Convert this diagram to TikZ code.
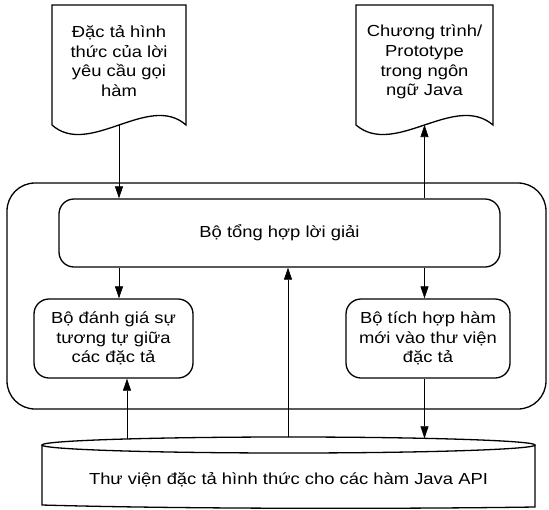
\documentclass[tikz,border=0pt]{standalone}
\usepackage{fontspec}
\setmainfont{Liberation Sans}[FakeStretch=1.15]
\usetikzlibrary{arrows.meta}
\begin{document}
\begin{tikzpicture}[x=1pt,y=-1pt,
  lbl/.style={align=center,inner sep=0pt,font=\fontsize{16}{19.7}\selectfont},
  box/.style={lbl,draw,line width=1.3pt,rounded corners=15pt},
  conn/.style={line width=0.6pt,-{Triangle[length=12pt,width=8pt]}}]
\useasboundingbox (0,0) rectangle (549,509);
% documents
\draw[line width=1.3pt] (52,5) -- (186,5) -- (186,125)
      .. controls (149,92) and (89,158) .. (52,125) -- cycle;
\coordinate (spec-b) at (119,125);
\node[lbl] (spec) at (119,61) {Đặc tả hình\\thức của lời\\yêu cầu gọi\\hàm};
\draw[line width=1.3pt] (356,5) -- (493,5) -- (493,125)
      .. controls (454.5,92) and (394.5,158) .. (356,125) -- cycle;
\coordinate (proto-b) at (424.5,125);
\node[lbl] (proto) at (424.5,62) {Chương trình/\\Prototype\\trong ngôn\\ngữ Java};
% engine
\node[box,rounded corners=28pt,minimum width=539pt,minimum height=226pt] (engine) at (276.5,296) {};
\node[box,minimum width=441pt,minimum height=68pt] (synth) at (279.5,233) {Bộ tổng hợp lời giải};
\node[box,minimum width=159pt,minimum height=79pt] (sim) at (113.5,338.5) {Bộ đánh giá sự\\tương tự giữa\\các đặc tả};
\node[box,minimum width=164pt,minimum height=79pt] (integ) at (428,338.5) {Bộ tích hợp hàm\\mới vào thư viện\\đặc tả};
% library
\draw[line width=1.3pt] (42,445) -- (42,505) .. controls (180,509) and (400,509) .. (535,507) -- (535,445)
      (288.5,445) ellipse [x radius=246.5, y radius=8];
\node[lbl] (lib) at (288.5,480) {Thư viện đặc tả hình thức cho các hàm Java API};
\coordinate (lib-a) at (127,439);
\coordinate (lib-m) at (288,437);
\coordinate (lib-c) at (424.5,438.3);
% connectors
\draw[conn] (spec-b) -- (spec-b |- synth.north);
\draw[conn] (proto-b |- synth.north) -- (proto-b);
\draw[conn] (spec-b |- synth.south) -- (spec-b |- sim.north);
\draw[conn] (proto-b |- synth.south) -- (proto-b |- integ.north);
\draw[conn] (lib-a) -- (lib-a |- sim.south);
\draw[conn] (lib-m) -- (lib-m |- synth.south);
\draw[conn] (proto-b |- integ.south) -- (lib-c);
\end{tikzpicture}
\end{document}
